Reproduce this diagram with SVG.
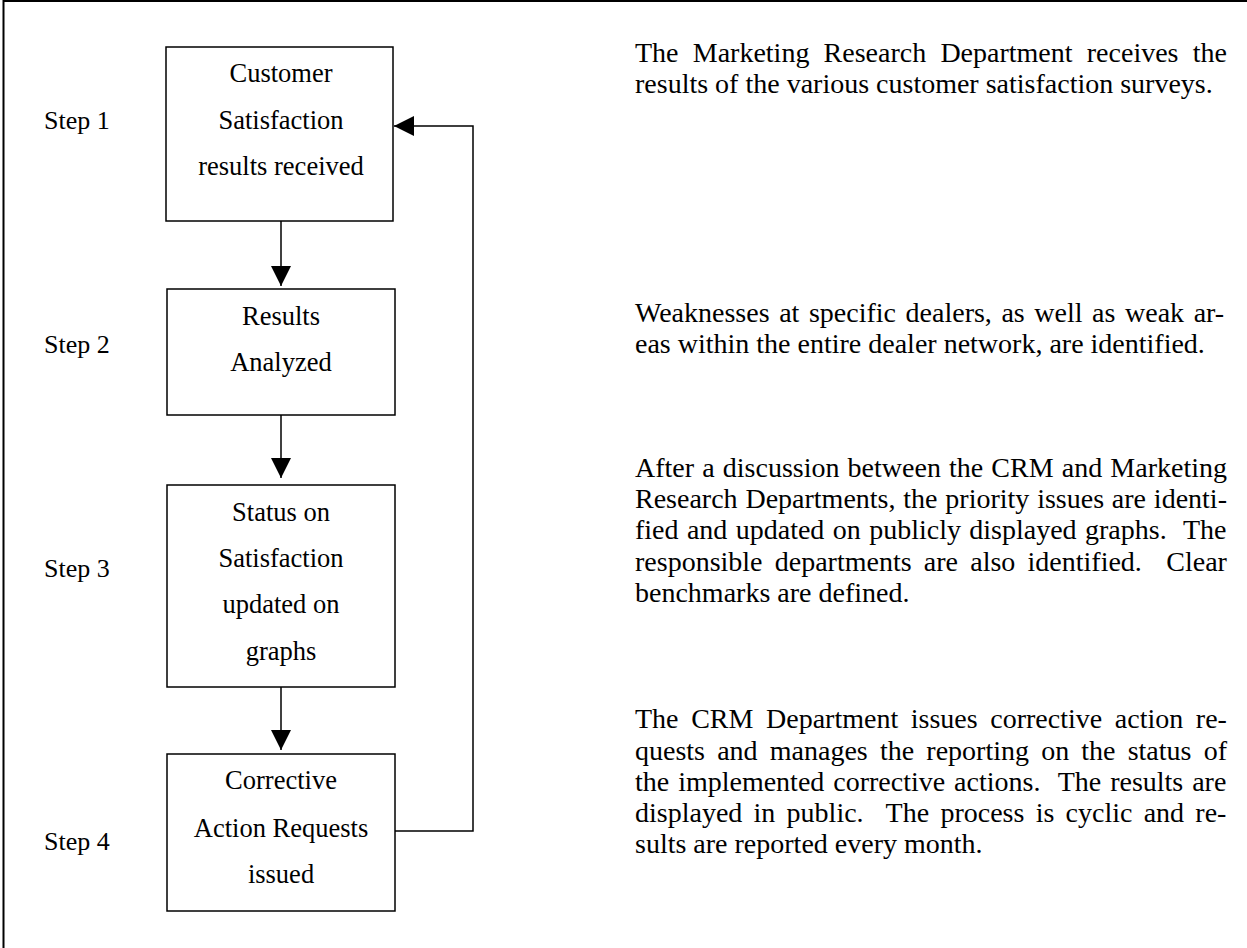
<svg xmlns="http://www.w3.org/2000/svg" width="1247" height="948" viewBox="0 0 1247 948">
<defs>
<style>
text{font-family:"Liberation Serif","Times New Roman",serif;fill:#000}
.box{fill:#fff;stroke:#000;stroke-width:1.5}
.lbl{font-size:26.5px;text-anchor:middle}
.step{font-size:26px}
.para{font-size:28px}
.con{fill:none;stroke:#000;stroke-width:1.5}
</style>
<marker id="ah" viewBox="0 0 20 20" refX="20" refY="10" markerWidth="20" markerHeight="20" markerUnits="userSpaceOnUse" orient="auto">
<path d="M0,0 L20,10 L0,20 Z" fill="#000"/>
</marker>
</defs>
<rect width="1247" height="948" fill="#fff"/>
<path d="M3.5,948 V1 H1247" fill="none" stroke="#000" stroke-width="2"/>

<g id="steps">
<text class="step" x="44" y="129">Step 1</text>
<text class="step" x="44" y="353">Step 2</text>
<text class="step" x="44" y="577">Step 3</text>
<text class="step" x="44" y="850">Step 4</text>
</g>

<g id="node1">
<rect class="box" x="166" y="47" width="227" height="174"/>
<text class="lbl" x="281" y="82">Customer</text>
<text class="lbl" x="281" y="129">Satisfaction</text>
<text class="lbl" x="281" y="175">results received</text>
</g>
<g id="node2">
<rect class="box" x="167" y="289" width="228" height="126"/>
<text class="lbl" x="281" y="325">Results</text>
<text class="lbl" x="281" y="371">Analyzed</text>
</g>
<g id="node3">
<rect class="box" x="167" y="485" width="228" height="202"/>
<text class="lbl" x="281" y="521">Status on</text>
<text class="lbl" x="281" y="567">Satisfaction</text>
<text class="lbl" x="281" y="613">updated on</text>
<text class="lbl" x="281" y="660">graphs</text>
</g>
<g id="node4">
<rect class="box" x="167" y="754" width="228" height="157"/>
<text class="lbl" x="281" y="789">Corrective</text>
<text class="lbl" x="281" y="837">Action Requests</text>
<text class="lbl" x="281" y="883">issued</text>
</g>

<g id="connectors">
<path class="con" d="M281,221 V286" marker-end="url(#ah)"/>
<path class="con" d="M281,415 V478" marker-end="url(#ah)"/>
<path class="con" d="M281,687 V750" marker-end="url(#ah)"/>
<path class="con" d="M395,831 H473 V126 H394" marker-end="url(#ah)"/>
</g>

<g id="descriptions">
<text class="para" xml:space="preserve" x="635" y="62" word-spacing="7.21">The Marketing Research Department receives the</text>
<text class="para" xml:space="preserve" x="635" y="93">results of the various customer satisfaction surveys.</text>

<text class="para" xml:space="preserve" x="635" y="322" word-spacing="2.57">Weaknesses at specific dealers, as well as weak ar-</text>
<text class="para" xml:space="preserve" x="635" y="353">eas within the entire dealer network, are identified.</text>

<text class="para" xml:space="preserve" x="635" y="477" word-spacing="1.14">After a discussion between the CRM and Marketing</text>
<text class="para" xml:space="preserve" x="635" y="508" word-spacing="0.82">Research Departments, the priority issues are identi-</text>
<text class="para" xml:space="preserve" x="635" y="539" word-spacing="1.39">fied and updated on publicly displayed graphs.  The</text>
<text class="para" xml:space="preserve" x="635" y="571" word-spacing="5.22">responsible departments are also identified.  Clear</text>
<text class="para" xml:space="preserve" x="635" y="602">benchmarks are defined.</text>

<text class="para" xml:space="preserve" x="635" y="728" word-spacing="5.61">The CRM Department issues corrective action re-</text>
<text class="para" xml:space="preserve" x="635" y="760" word-spacing="5.18">quests and manages the reporting on the status of</text>
<text class="para" xml:space="preserve" x="635" y="791" word-spacing="1.92">the implemented corrective actions.  The results are</text>
<text class="para" xml:space="preserve" x="635" y="822" word-spacing="4.26">displayed in public.  The process is cyclic and re-</text>
<text class="para" xml:space="preserve" x="635" y="853">sults are reported every month.</text>
</g>
</svg>
